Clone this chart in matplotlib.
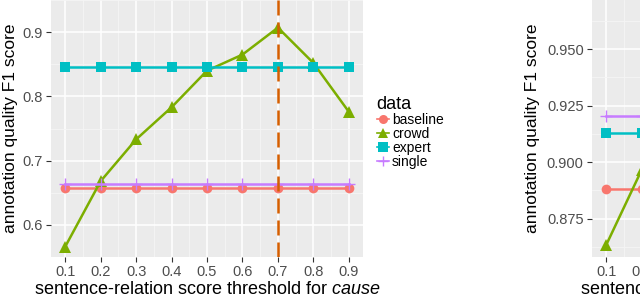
import matplotlib
matplotlib.use("Agg")
import matplotlib.pyplot as plt
from matplotlib.lines import Line2D

plt.rcParams['font.family'] = ['Liberation Sans', 'DejaVu Sans']
plt.rcParams['mathtext.fontset'] = 'custom'
plt.rcParams['mathtext.rm'] = 'Liberation Sans'
plt.rcParams['mathtext.it'] = 'Liberation Sans:italic'

thresholds = [0.1, 0.2, 0.3, 0.4, 0.5, 0.6, 0.7, 0.8, 0.9]
# left panel (cause)
cause_baseline = [0.657] * 9
cause_crowd = [0.566, 0.668, 0.733, 0.783, 0.840, 0.865, 0.907, 0.852, 0.776]
cause_expert = [0.846] * 9
cause_single = [0.663] * 9
cause_best = 0.7

# right panel (partially visible)
right_thresholds = [0.1, 0.2, 0.3]
right_baseline = [0.888, 0.888, 0.888]
right_crowd = [0.8633, 0.8965, 0.905]
right_expert = [0.913, 0.913, 0.913]
right_single = [0.9206, 0.9206, 0.9206]

series_names = ["baseline", "crowd", "expert", "single"]
colors = {"baseline": "#F8766D", "crowd": "#7CAE00", "expert": "#00BFC4", "single": "#C77CFF"}
markers = {"baseline": "o", "crowd": "^", "expert": "s", "single": "+"}

left_yticks = [0.6, 0.7, 0.8, 0.9]
right_yticks = [0.875, 0.900, 0.925, 0.950]

fig = plt.figure(figsize=(6.4, 2.99), dpi=100)
W, H = 640, 299

def style_axes(ax, yticks, ylim, yfmt):
    ax.set_facecolor("#EBEBEB")
    for s in ax.spines.values():
        s.set_visible(False)
    ax.set_xlim(0.06, 0.94)
    ax.set_ylim(*ylim)
    ax.set_xticks(thresholds)
    ax.set_xticklabels(["%.1f" % t for t in thresholds])
    ax.set_xticks([t + 0.05 for t in thresholds[:-1]], minor=True)
    ax.set_yticks(yticks)
    ax.set_yticklabels([yfmt % v for v in yticks])
    step = yticks[1] - yticks[0]
    minor = [yticks[0] - step / 2] + [v + step / 2 for v in yticks]
    ax.set_yticks(minor, minor=True)
    ax.grid(True, which="major", color="white", linewidth=1.1)
    ax.grid(True, which="minor", color="#F5F5F5", linewidth=0.6)
    ax.set_axisbelow(True)
    ax.tick_params(which="major", length=3.5, width=0.8, color="#333333",
                   labelsize=10.5, labelcolor="#4D4D4D", pad=2.5)
    ax.tick_params(which="minor", length=0)

def draw(ax, xs, data):
    for name in series_names:
        vals = data[name]
        m = markers[name]
        ms = {"o": 7, "^": 8, "s": 7, "+": 8}[m]
        ax.plot(xs, vals, color=colors[name], linewidth=1.8, marker=m,
                markersize=ms, markeredgewidth=1.0 if m == "+" else 0,
                markerfacecolor=colors[name], markeredgecolor=colors[name],
                label=name, zorder=3)

# left axes
axL = fig.add_axes([51 / W, (H - 257) / H, 312 / W, 257 / H])
style_axes(axL, left_yticks, (0.551, 0.924), "%.1f")
draw(axL, thresholds, {"baseline": cause_baseline, "crowd": cause_crowd,
                       "expert": cause_expert, "single": cause_single})
axL.axvline(cause_best, color="#D55E00", linewidth=1.8, linestyle=(0, (6, 2.8)), zorder=4)
axL.set_xlabel("sentence-relation score threshold for $\\it{cause}$", fontsize=13, labelpad=1)
axL.set_ylabel("annotation quality F1 score", fontsize=12.5, labelpad=3)

# right axes (extends beyond figure)
axR = fig.add_axes([592 / W, (H - 257) / H, 312 / W, 257 / H])
style_axes(axR, right_yticks, (0.858, 0.9717), "%.3f")
draw(axR, right_thresholds, {"baseline": right_baseline, "crowd": right_crowd,
                             "expert": right_expert, "single": right_single})
axR.set_xlabel("sentence-relation score threshold for $\\it{treat}$", fontsize=13, labelpad=1)
axR.set_ylabel("annotation quality F1 score", fontsize=12.5, labelpad=5)

# legend
leg_handles = [Line2D([], [], color=colors[n], marker=markers[n], linewidth=1.2,
                      markersize=6.5 if markers[n] != "+" else 7,
                      markeredgewidth=0 if markers[n] != "+" else 1.0,
                      markerfacecolor=colors[n], markeredgecolor=colors[n])
               for n in series_names]
leg = fig.legend(leg_handles, series_names, title="data", loc="upper left",
                 bbox_to_anchor=(367 / W, 1 - 86 / H), frameon=False,
                 fontsize=10, title_fontsize=13, handlelength=0.9,
                 handletextpad=0.2, labelspacing=0.0, borderpad=0.2)
leg._legend_box.align = "left"

fig.savefig("out.png", dpi=100)
